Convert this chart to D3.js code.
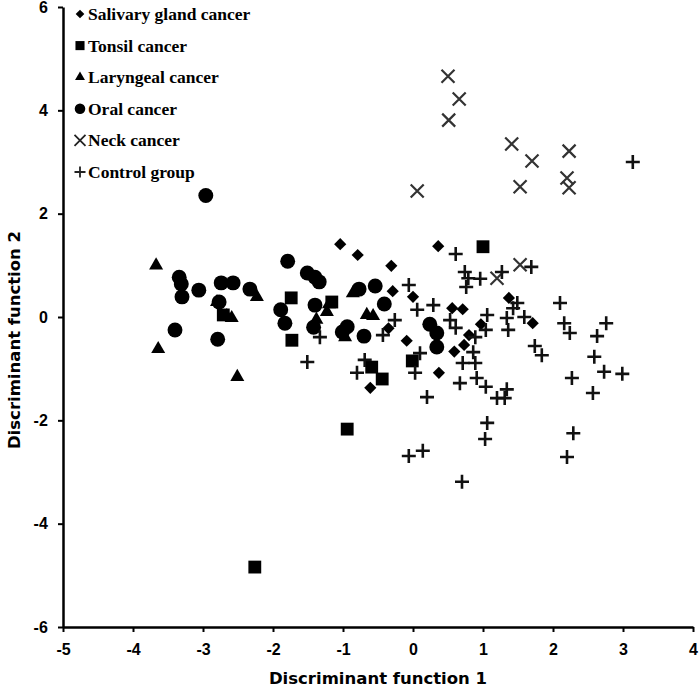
<!DOCTYPE html>
<html><head><meta charset="utf-8">
<script src="https://cdn.jsdelivr.net/npm/d3@7"></script>
<style>body{margin:0;background:#fff}</style>
</head><body>
<svg id="c" width="699" height="690"></svg>
<script>
const categories = ["Salivary gland cancer","Tonsil cancer","Laryngeal cancer","Oral cancer","Neck cancer","Control group"];
const xTicks = [-5,-4,-3,-2,-1,0,1,2,3,4];
const yTicks = [-6,-4,-2,0,2,4,6];
const salivary = [[-1.04,1.41],[-0.79,1.2],[-0.31,0.99],[0.36,1.37],[-0.29,0.5],[0,0.39],[0.56,0.17],[0.71,0.15],[-0.09,-0.46],[-0.35,-0.22],[0.59,-0.67],[0.73,-0.54],[0.8,-0.35],[0.37,-1.08],[-0.61,-1.37],[0.97,-0.14],[1.37,0.37],[1.71,-0.12]];
const tonsil = [[-2.71,0.04],[-1.74,0.37],[-1.73,-0.45],[-1.16,0.29],[-0.59,-0.97],[-0.44,-1.2],[-0.01,-0.85],[1.0,1.36],[-0.94,-2.17],[-2.26,-4.84]];
const laryngeal = [[-3.67,1.0],[-3.64,-0.62],[-2.8,0.29],[-2.59,-0.02],[-2.66,0.02],[-2.51,-1.16],[-2.23,0.39],[-1.38,-0.05],[-1.23,0.1],[-1.2,0.25],[-0.97,-0.39],[-0.86,0.46],[-0.66,0.04],[-0.57,0.02]];
const oral = [[-2.96,2.35],[-3.34,0.77],[-3.31,0.64],[-3.30,0.39],[-3.06,0.52],[-2.74,0.66],[-2.57,0.66],[-2.77,0.29],[-3.40,-0.25],[-2.79,-0.43],[-2.33,0.54],[-1.79,1.08],[-1.51,0.85],[-1.40,0.77],[-1.34,0.68],[-1.89,0.14],[-1.83,-0.12],[-1.40,0.23],[-1.42,-0.2],[-1.01,-0.29],[-0.94,-0.19],[-0.70,-0.37],[-0.77,0.54],[-0.54,0.6],[-0.41,0.25],[0.24,-0.14],[0.34,-0.31],[0.34,-0.58]];
const neck = [[0.5,4.66],[0.66,4.22],[0.51,3.81],[1.41,3.35],[1.7,3.02],[2.23,3.21],[2.2,2.69],[2.23,2.5],[1.53,2.52],[0.06,2.44],[1.53,1.01],[1.2,0.75]];
const control = [[0.61,1.22],[0.74,0.87],[0.79,0.75],[0.96,0.74],[0.76,0.58],[1.27,0.87],[1.69,0.97],[-0.06,0.62],[0.29,0.23],[0.06,0.14],[0.53,-0.06],[0.61,-0.21],[1.06,0.04],[1.04,-0.25],[1.49,0.27],[1.43,0.17],[1.34,-0.02],[1.36,-0.25],[1.59,0.0],[1.74,-0.56],[1.84,-0.74],[-0.26,-0.06],[-0.43,-0.35],[-1.33,-0.39],[-1.51,-0.87],[-0.69,-0.83],[-0.8,-1.08],[0.89,-0.39],[0.86,-0.68],[0.71,-0.89],[0.89,-0.89],[0.1,-0.7],[0.03,-1.08],[0.67,-1.28],[0.91,-1.18],[1.04,-1.35],[1.34,-1.4],[1.2,-1.57],[1.31,-1.57],[0.2,-1.55],[1.06,-2.05],[1.03,-2.36],[-0.06,-2.69],[0.14,-2.59],[0.7,-3.19],[2.1,0.27],[2.16,-0.12],[2.24,-0.31],[2.76,-0.12],[2.63,-0.37],[2.59,-0.77],[2.27,-1.18],[2.73,-1.06],[2.99,-1.1],[2.57,-1.47],[2.29,-2.25],[2.2,-2.71],[3.14,3.0]];

const svg = d3.select("#c");
const x = d3.scaleLinear().domain([-5,4]).range([63,693]);
const y = d3.scaleLinear().domain([-6,6]).range([627,7]);

const sym = {
  "Salivary gland cancer": {type:d3.symbolDiamond2, size:95, fill:true},
  "Tonsil cancer": {type:d3.symbolSquare, size:165, fill:true},
  "Laryngeal cancer": {type:d3.symbolTriangle, size:85, fill:true},
  "Oral cancer": {type:d3.symbolCircle, size:175, fill:true},
  "Neck cancer": {type:d3.symbolX, size:150, fill:false},
  "Control group": {type:d3.symbolPlus, size:170, fill:false}
};
const seriesData = [salivary,tonsil,laryngeal,oral,neck,control];

// axes
const xAxis = svg.append("g").attr("transform",`translate(0,${y(-6)})`)
  .call(d3.axisBottom(x).tickValues(xTicks).tickSize(5).tickSizeOuter(0).tickFormat(d3.format("d")));
const yAxis = svg.append("g").attr("transform",`translate(${x(-5)},0)`)
  .call(d3.axisLeft(y).tickValues(yTicks).tickSize(5).tickSizeOuter(0).tickFormat(d3.format("d")));
[xAxis,yAxis].forEach(a=>{
  a.select(".domain").attr("stroke","#000").attr("stroke-width",2.5);
  a.selectAll(".tick line").attr("stroke","#000").attr("stroke-width",2);
  a.selectAll(".tick text").attr("font-family","'Liberation Sans', sans-serif").attr("font-weight","bold")
   .attr("font-size",16).attr("fill","#000").text(d=>String(d));
});
xAxis.selectAll(".tick text").attr("dy","1.25em");
yAxis.selectAll(".tick text").attr("dx","-0.45em");

// points
function plusPath(s){return `M${-s},0L${s},0M0,${-s}L0,${s}`;}
function xPath(s){return `M${-s},${-s}L${s},${s}M${-s},${s}L${s},${-s}`;}
categories.forEach((c,i)=>{
  const g = svg.append("g");
  const spec = sym[c];
  g.selectAll("path").data(seriesData[i]).join("path")
    .attr("transform",d=>`translate(${x(d[0])},${y(d[1])})`)
    .attr("d", c==="Control group" ? plusPath(7) : c==="Neck cancer" ? xPath(6.5) : d3.symbol().type(spec.type).size(spec.size)())
    .attr("fill", spec.fill ? "#000" : "none")
    .attr("stroke", spec.fill ? "none" : (c==="Neck cancer" ? "#333" : "#111"))
    .attr("stroke-width", c==="Neck cancer" ? 2.2 : 2.6);
});

// legend
const leg = svg.append("g");
categories.forEach((c,i)=>{
  const yy = 14 + i*31.6;
  const spec = sym[c];
  leg.append("path").attr("transform",`translate(80,${yy})`)
    .attr("d", c==="Control group" ? plusPath(5.5) : c==="Neck cancer" ? xPath(5.5) : d3.symbol().type(spec.type).size(spec.size*0.5)())
    .attr("fill", spec.fill ? "#000" : "none")
    .attr("stroke", spec.fill ? "none" : "#222").attr("stroke-width",1.8);
  leg.append("text").attr("x",88).attr("y",yy+6).text(c)
    .attr("font-family","'Liberation Serif', serif").attr("font-weight","bold").attr("font-size",17.5).attr("fill","#000");
});

// axis titles
svg.append("text").attr("x",378).attr("y",684).attr("text-anchor","middle")
  .attr("font-family","'DejaVu Sans', sans-serif").attr("font-weight","bold").attr("font-size",16.5)
  .text("Discriminant function 1");
svg.append("text").attr("transform","translate(20,340) rotate(-90)").attr("text-anchor","middle")
  .attr("font-family","'DejaVu Sans', sans-serif").attr("font-weight","bold").attr("font-size",16.5)
  .text("Discriminant function 2");
</script>
</body></html>
